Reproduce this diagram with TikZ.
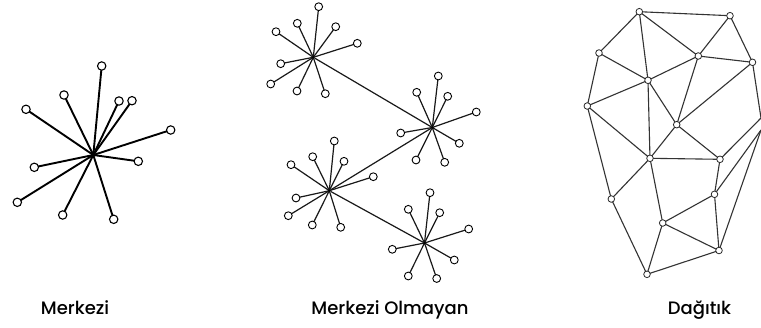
\documentclass[tikz,border=0pt]{standalone}
\usepackage{fontspec}
\setmainfont{Poppins}
\newfontfamily\labelfont{Poppins Medium}
\begin{document}
\begin{tikzpicture}[x=1pt,y=-1pt,
  leafL/.style={circle,draw=black,fill=white,line width=1.1pt,inner sep=0pt,minimum size=8.4pt},
  leafM/.style={circle,draw=black,fill=white,line width=0.9pt,inner sep=0pt,minimum size=7.8pt},
  leafR/.style={circle,draw=black!85,fill=white,line width=0.8pt,inner sep=0pt,minimum size=6.6pt},
  hub/.style={circle,fill=black,inner sep=0pt,minimum size=2.6pt},
  edgeL/.style={line width=1.9pt,black},
  edgeM/.style={line width=1.2pt,black!90},
  edgeR/.style={line width=1.1pt,black!80},
  lbl/.style={anchor=base,font=\labelfont\fontsize{18}{21}\selectfont}]
\useasboundingbox (0,0) rectangle (761,327);
\fill[white] (0,0) rectangle (761,327);

% ---------- Merkezi ----------
\node[hub] (L) at (93.3,155) {};
\foreach \n/\x/\y in {l1/101.7/66, l2/64/95, l3/26/109.3, l4/119/101, l5/132/100.7, l6/170.7/130, l7/138.3/161.3, l8/34.3/167.3, l9/17.3/202.3, l10/62.7/215, l11/113.7/219.3}{
  \coordinate (\n) at (\x,\y);
  \draw[edgeL] (L.center) -- (\n);
}
\foreach \n in {l1,l2,l3,l4,l5,l6,l7,l8,l9,l10,l11}{\node[leafL] at (\n) {};}

% ---------- Merkezi Olmayan ----------
\node[hub] (A) at (313.3,57.3) {};
\node[hub] (B) at (432.3,127.5) {};
\node[hub] (C) at (329.3,190.7) {};
\node[hub] (D) at (424.5,243) {};
\draw[edgeM] (A) -- (B);
\draw[edgeM] (B) -- (C);
\draw[edgeM] (C) -- (D);
\foreach \h/\n/\x/\y in {
  A/a1/318.7/6.7, A/a2/297.3/23.3, A/a3/276/31.7, A/a4/335.7/26.7, A/a5/357.3/43.3, A/a6/280.7/63.7, A/a7/270.7/84, A/a8/297/91, A/a9/325.3/93.7,
  B/b1/438.3/76, B/b2/416.7/92.3, B/b3/447.7/96.3, B/b4/476.3/112, B/b5/400.7/133, B/b6/459.3/143.3, B/b7/416/160, B/b8/444.7/162.3,
  C/c1/334.3/141, C/c2/312.7/156.7, C/c3/291/164.7, C/c4/344/161.3, C/c5/373.3/176.7, C/c6/296/198, C/c7/288.3/215.7, C/c8/312.3/225, C/c9/340.7/227.3,
  D/d1/430/192.7, D/d2/408.3/209.3, D/d3/439.7/212.7, D/d4/468.7/229, D/d5/392.3/249.3, D/d6/454.3/260, D/d7/408.3/276, D/d8/436.7/278.5}{
  \coordinate (\n) at (\x,\y);
  \draw[edgeM] (\h.center) -- (\n);
  \node[leafM] at (\n) {};
}
\foreach \h in {A,B,C,D}{\node[hub] at (\h) {};}

% ---------- Dağıtık ----------
\foreach \n/\x/\y in {n1/639.3/11.7, n2/730/15.7, n3/599/53, n4/698.3/56, n5/752.5/62.3, n6/648/80.3, n7/587.3/106, n8/676.7/124.7, n9/650/158.3, n10/720/159.3, n11/611.3/199, n12/714.5/194.3, n13/662.7/223, n14/719/250.5, n15/647/274.3}{
  \coordinate (\n) at (\x,\y);
}
\coordinate (e1) at (761,118);
\coordinate (e2) at (761,130);
\foreach \a/\b in {n1/n2, n1/n3, n1/n6, n1/n4, n2/n4, n2/n5, n3/n6, n3/n7, n4/n5, n4/n6, n4/n8, n5/n8, n6/n7, n6/n8, n6/n9, n7/n9, n7/n11, n8/n9, n8/n10, n9/n10, n9/n11, n9/n13, n10/n12, n11/n15, n12/n13, n12/n14, n13/n14, n13/n15, n14/n15, n5/e1, n10/e1, n12/e2, n14/e2}{
  \draw[edgeR] (\a) -- (\b);
}
\foreach \n in {n1,n2,n3,n4,n5,n6,n7,n8,n9,n10,n11,n12,n13,n14,n15}{
  \node[leafR] at (\n) {};
}

% ---------- labels ----------
\node[lbl] (t1) at (75,314) {Merkezi};
\node[lbl] (t2) at (390,314) {Merkezi Olmayan};
\node[lbl] (t3) at (699.5,314) {Dağıtık};
\end{tikzpicture}
\end{document}
